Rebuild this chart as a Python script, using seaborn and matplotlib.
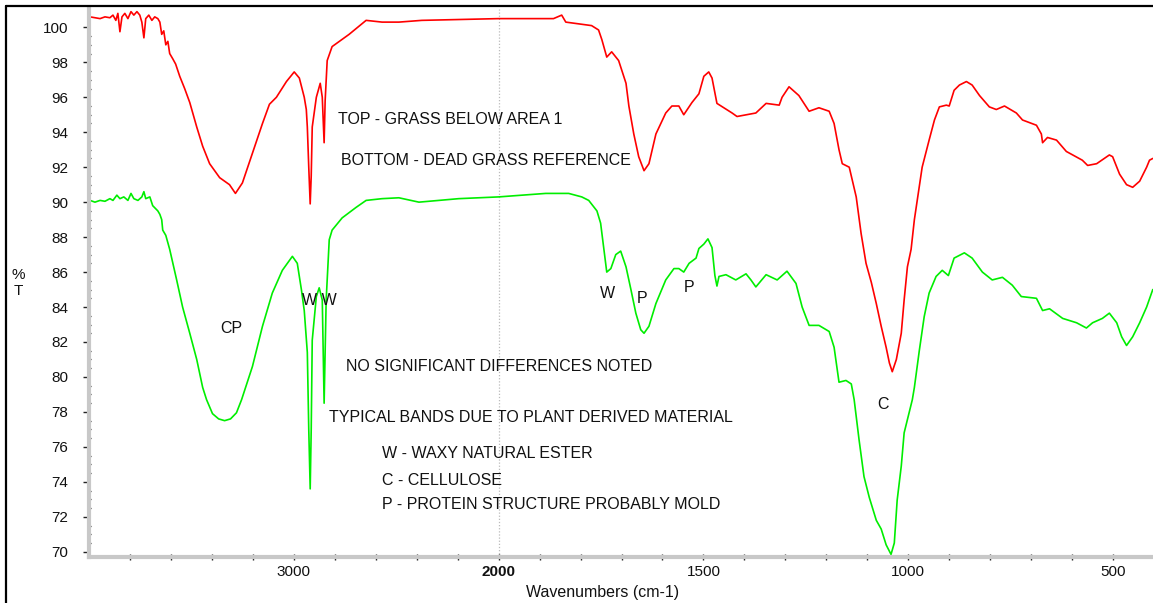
import numpy as np
import pandas as pd
import matplotlib
matplotlib.use("Agg")
import matplotlib.pyplot as plt
from matplotlib.lines import Line2D
from matplotlib.ticker import FixedLocator
import seaborn as sns

# ---------------- data (wavenumber cm-1, %T) ----------------
top_wn = [3995, 3971, 3946, 3922, 3898, 3883, 3869, 3859, 3849, 3839, 3825, 3810, 3795, 3781,
          3766, 3752, 3742, 3732, 3723, 3708, 3693, 3679, 3664, 3654, 3645, 3635, 3625, 3615,
          3606, 3591, 3577, 3557, 3533, 3508, 3474, 3445, 3411, 3362, 3314, 3285, 3251, 3202,
          3153, 3119, 3085, 3036, 2998, 2973, 2949, 2939, 2934, 2927, 2920, 2915, 2910, 2890,
          2871, 2861, 2852, 2847, 2837, 2813, 2730, 2647, 2569, 2487, 2375, 2000, 1866, 1846,
          1836, 1773, 1756, 1748, 1736, 1724, 1707, 1689, 1682, 1670, 1658, 1645, 1633, 1616,
          1592, 1577, 1560, 1548, 1528, 1511, 1499, 1487, 1479, 1467, 1430, 1418, 1372, 1347,
          1315, 1308, 1291, 1267, 1242, 1218, 1193, 1181, 1169, 1161, 1144, 1137, 1127, 1115,
          1103, 1090, 1078, 1066, 1054, 1046, 1039, 1029, 1017, 1010, 1002, 993, 985, 978,
          966, 949, 936, 924, 907, 900, 888, 875, 858, 844, 826, 802, 785, 765, 736, 721,
          687, 675, 672, 660, 638, 614, 575, 562, 540, 509, 501, 484, 467, 452, 435, 418,
          411, 403]
top_t = [100.6, 100.55, 100.5, 100.6, 100.55, 100.7, 100.4, 100.8, 99.75, 100.6, 100.8, 100.5,
         100.9, 100.7, 100.9, 100.7, 100.3, 99.4, 100.5, 100.7, 100.4, 100.6, 100.5, 100.3,
         99.6, 99.8, 99.0, 99.2, 98.5, 98.2, 97.9, 97.2, 96.5, 95.7, 94.3, 93.2, 92.2, 91.4,
         91.0, 90.5, 91.1, 92.8, 94.5, 95.6, 96.0, 96.9, 97.45, 97.1, 96.0, 95.3, 94.3, 92.0,
         89.9, 91.5, 94.3, 96.0, 96.8, 96.0, 93.4, 95.8, 98.1, 98.9, 99.6, 100.4, 100.3, 100.3,
         100.4, 100.5, 100.5, 100.7, 100.3, 100.1, 99.85, 99.3, 98.3, 98.6, 98.1, 96.8, 95.5,
         93.9, 92.6, 91.8, 92.2, 93.9, 95.1, 95.5, 95.5, 95.0, 95.7, 96.2, 97.2, 97.45, 97.1,
         95.65, 95.1, 94.9, 95.1, 95.65, 95.55, 96.0, 96.6, 96.1, 95.2, 95.4, 95.2, 94.5, 93.0,
         92.2, 92.0, 91.3, 90.3, 88.2, 86.5, 85.4, 84.2, 82.9, 81.7, 80.8, 80.3, 81.0, 82.5,
         84.4, 86.3, 87.3, 89.0, 90.1, 92.0, 93.55, 94.7, 95.45, 95.55, 95.5, 96.4, 96.7,
         96.9, 96.7, 96.1, 95.45, 95.3, 95.5, 95.1, 94.7, 94.4, 93.9, 93.4, 93.7, 93.55, 92.9,
         92.4, 92.1, 92.2, 92.7, 92.6, 91.6, 91.0, 90.85, 91.2, 92.0, 92.4, 92.5]

bottom_wn = [3995, 3971, 3946, 3922, 3898, 3883, 3864, 3849, 3830, 3810, 3795, 3781, 3761, 3742,
             3732, 3723, 3703, 3689, 3664, 3654, 3645, 3640, 3625, 3606, 3572, 3543, 3508, 3474,
             3445, 3426, 3397, 3367, 3338, 3309, 3280, 3255, 3202, 3153, 3105, 3056, 3007, 2983,
             2963, 2949, 2934, 2927, 2920, 2915, 2910, 2890, 2876, 2861, 2856, 2852, 2847, 2842,
             2827, 2813, 2764, 2696, 2647, 2569, 2487, 2389, 2195, 2000, 1885, 1829, 1797, 1780,
             1760, 1751, 1743, 1736, 1726, 1714, 1702, 1689, 1677, 1665, 1653, 1645, 1633, 1616,
             1592, 1572, 1560, 1548, 1535, 1518, 1511, 1499, 1489, 1479, 1472, 1467, 1462, 1445,
             1421, 1396, 1384, 1372, 1347, 1320, 1296, 1274, 1259, 1242, 1218, 1193, 1181, 1169,
             1152, 1139, 1132, 1120, 1108, 1095, 1078, 1066, 1054, 1042, 1034, 1027, 1017, 1010,
             1002, 990, 985, 973, 961, 949, 932, 917, 902, 888, 863, 844, 819, 795, 770, 746,
             724, 687, 672, 655, 623, 589, 565, 550, 526, 509, 491, 479, 467, 452, 435, 418, 403]
bottom_t = [90.1, 90.0, 90.1, 90.05, 90.2, 90.1, 90.4, 90.2, 90.3, 90.1, 90.5, 90.2, 90.1, 90.3,
            90.6, 90.2, 90.3, 89.8, 89.5, 89.3, 89.0, 88.4, 88.1, 87.3, 85.55, 84.0, 82.5, 81.0,
            79.4, 78.7, 77.9, 77.6, 77.5, 77.6, 77.95, 78.7, 80.6, 82.9, 84.8, 86.1, 86.9, 86.5,
            85.0, 83.8, 81.4, 77.0, 73.6, 77.0, 82.1, 84.6, 85.1, 84.4, 81.0, 78.5, 81.5, 84.4,
            87.85, 88.4, 89.1, 89.7, 90.1, 90.2, 90.25, 90.0, 90.2, 90.3, 90.5, 90.5, 90.3, 90.1,
            89.5, 88.8, 87.3, 86.0, 86.2, 87.0, 87.2, 86.3, 85.0, 83.65, 82.7, 82.5, 82.9, 84.2,
            85.55, 86.2, 86.2, 86.0, 86.5, 86.8, 87.35, 87.6, 87.9, 87.4, 85.8, 85.2, 85.75,
            85.85, 85.55, 85.9, 85.55, 85.15, 85.85, 85.55, 86.05, 85.35, 84.0, 82.95, 82.95,
            82.6, 81.7, 79.7, 79.8, 79.6, 78.7, 76.4, 74.3, 73.1, 71.8, 71.3, 70.4, 69.85, 70.5,
            72.95, 74.9, 76.8, 77.55, 78.7, 79.4, 81.5, 83.45, 84.8, 85.75, 86.1, 85.8, 86.8,
            87.1, 86.8, 86.0, 85.55, 85.7, 85.25, 84.6, 84.5, 83.8, 83.9, 83.35, 83.1, 82.8,
            83.1, 83.35, 83.65, 83.1, 82.3, 81.8, 82.3, 83.1, 84.0, 85.0]

major_ticks = [3000, 2000, 1500, 1000, 500]
major_labels = ["3000", "2000", "1500", "1000", "500"]
minor_ticks = [3800, 3600, 3400, 3200, 2800, 2600, 2400, 2200, 1900, 1800, 1700, 1600, 1400,
               1300, 1200, 1100, 900, 800, 700, 600, 400]

annotations = [
    ("TOP - GRASS BELOW AREA 1", 2783, 94.75),
    ("BOTTOM - DEAD GRASS REFERENCE", 2769, 92.4),
    ("CP", 3358, 82.75),
    ("W W", 2959, 84.4),
    ("NO SIGNIFICANT DIFFERENCES NOTED", 2745, 80.6),
    ("TYPICAL BANDS DUE TO PLANT DERIVED MATERIAL", 2827, 77.7),
    ("W - WAXY NATURAL ESTER", 2569, 75.6),
    ("C - CELLULOSE", 2569, 74.1),
    ("P - PROTEIN STRUCTURE PROBABLY MOLD", 2569, 72.7),
    ("W", 1753, 84.75),
    ("P", 1663, 84.5),
    ("P", 1548, 85.1),
    ("C", 1076, 78.4),
]

# ---------------- figure ----------------
sns.set_theme(style="white")
plt.rcParams["font.family"] = ["Liberation Sans", "DejaVu Sans"]

W, H = 1153, 603
fig = plt.figure(figsize=(W / 100, H / 100), dpi=100)
ax = fig.add_axes([89 / W, 1 - 557 / H, (1154 - 89) / W, (557 - 9) / H])


def fwd(x):
    x = np.asarray(x, dtype=float)
    return np.where(x >= 2000, 2000 + (x - 2000) / 2.0, x)


def inv(y):
    y = np.asarray(y, dtype=float)
    return np.where(y >= 2000, 2000 + (y - 2000) * 2.0, y)


ax.set_xscale("function", functions=(fwd, inv))

df = pd.concat([
    pd.DataFrame({"wn": top_wn, "T": top_t, "series": "top"}),
    pd.DataFrame({"wn": bottom_wn, "T": bottom_t, "series": "bottom"}),
])
sns.lineplot(data=df, x="wn", y="T", hue="series",
             palette={"top": "#ff0000", "bottom": "#00ee00"},
             estimator=None, legend=False, linewidth=1.2, ax=ax)

ax.set_xlim(4000, 400)
ax.set_ylim(69.7, 101.05)

ax.axvline(2000, color="#bbbbbb", linestyle=(0, (1, 1.5)), linewidth=0.9, zorder=0)

# spines
for s in ["top", "right"]:
    ax.spines[s].set_visible(False)
for s in ["left", "bottom"]:
    ax.spines[s].set_color("#c8c8c8")
    ax.spines[s].set_linewidth(3.0)

# ticks
ax.set_xticks(major_ticks)
labels = ax.set_xticklabels(major_labels)
for lab in labels:
    if lab.get_text() == "2000":
        lab.set_fontweight("bold")
ax.xaxis.set_minor_locator(FixedLocator(minor_ticks))
ax.set_yticks(list(range(70, 101, 2)))
ax.yaxis.set_minor_locator(FixedLocator([v / 2 for v in range(140, 201)]))

ax.tick_params(axis="x", which="both", direction="inout", length=4, width=1.0,
               color="#222222", bottom=True, labelsize=11, pad=4, labelcolor="#111111")
ax.tick_params(axis="y", which="major", direction="out", length=4, width=1.0,
               color="#222222", left=True, labelsize=11, pad=11, labelcolor="#111111")
ax.tick_params(axis="y", which="minor", direction="inout", length=3, width=0.9,
               color="#222222", left=True)
ax.set_xlabel("")
ax.set_ylabel("")
ax.grid(False)

for txt, x, y in annotations:
    ax.text(x, y, txt, ha="left", va="center", fontsize=11.5, color="#111111")

fig.text(603 / W, 1 - 593 / H, "Wavenumbers (cm-1)", ha="center", va="center",
         fontsize=11.5, color="#111111")
fig.text(18 / W, 1 - 283 / H, "%\nT", ha="center", va="center", fontsize=11,
         color="#111111", linespacing=1.1)

# outer frame
fig.add_artist(Line2D([6 / W, 6 / W], [0, 1 - 5.5 / H], transform=fig.transFigure,
                      color="black", linewidth=1.6))
fig.add_artist(Line2D([6 / W, 1], [1 - 5.5 / H, 1 - 5.5 / H], transform=fig.transFigure,
                      color="black", linewidth=1.6))

fig.savefig("out.png", dpi=100)
